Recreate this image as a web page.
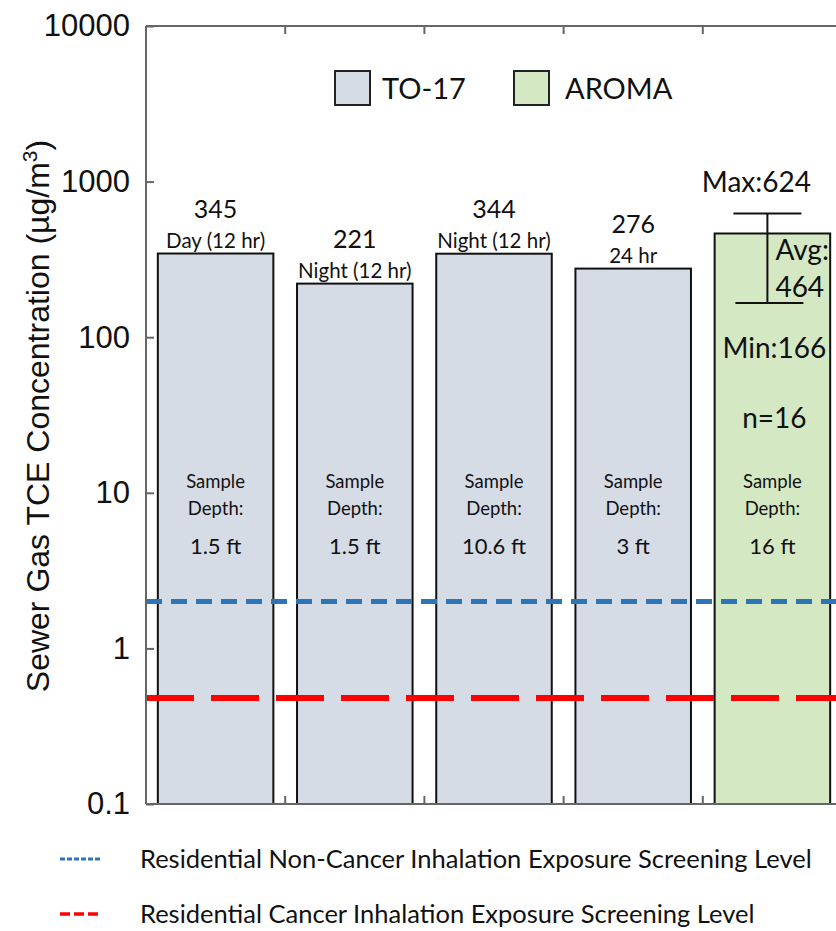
<!DOCTYPE html>
<html>
<head>
<meta charset="utf-8">
<script src="https://cdn.jsdelivr.net/npm/d3@7"></script>
<style>
  html, body { margin: 0; padding: 0; background: #fff; overflow: hidden; }
  svg { display: block; }
  .lbl { font-family: Lato, "Open Sans", sans-serif; fill: #111; }
  .arial { font-family: "Liberation Sans", Arial, sans-serif; fill: #111; }
</style>
</head>
<body>
<div id="chart"></div>
<script>
// Sewer gas TCE concentrations, log scale bar chart

const periods = ["Day (12 hr)", "Night (12 hr)", "Night (12 hr)", "24 hr", ""];
const methods = ["TO-17", "TO-17", "TO-17", "TO-17", "AROMA"];
const concentrations = [345, 221, 344, 276, 464];
const depths = ["1.5 ft", "1.5 ft", "10.6 ft", "3 ft", "16 ft"];
const aromaMin = 166;
const aromaMax = 624;
const aromaN = 16;
const yTicks = [0.1, 1, 10, 100, 1000, 10000];
const screeningNames = [
  "Residential Non-Cancer Inhalation Exposure Screening Level",
  "Residential Cancer Inhalation Exposure Screening Level",
];
const screeningLevels = [2.0, 0.48];

const width = 836;
const height = 931;
const margin = { top: 26, left: 146, bottom: 804, right: 842 };

const colors = { "TO-17": "#d6dce6", AROMA: "#d5e8c4" };
const lineStyles = [
  { color: "#2e75b6", width: 5, dash: "16,9", legendWidth: 3, legendDash: "5,2" },
  { color: "#ff0000", width: 6, dash: "48,17", legendWidth: 3.5, legendDash: "10,4" },
];

const svg = d3
  .select("#chart")
  .append("svg")
  .attr("width", width)
  .attr("height", height);

const x = d3
  .scaleBand()
  .domain(d3.range(concentrations.length))
  .range([margin.left, margin.right])
  .paddingInner(0.17)
  .paddingOuter(0.085);

const y = d3
  .scaleLog()
  .domain([0.1, 10000])
  .range([margin.bottom, margin.top]);

// Bars
svg
  .append("g")
  .selectAll("rect")
  .data(concentrations)
  .enter()
  .append("rect")
  .attr("x", (d, i) => x(i))
  .attr("width", x.bandwidth())
  .attr("y", (d) => y(d))
  .attr("height", (d) => y(0.1) - y(d))
  .attr("fill", (d, i) => colors[methods[i]])
  .attr("stroke", "#111")
  .attr("stroke-width", 2);

// Screening level lines
screeningLevels.forEach((v, i) => {
  svg
    .append("line")
    .attr("x1", margin.left)
    .attr("x2", width)
    .attr("y1", y(v))
    .attr("y2", y(v))
    .attr("stroke", lineStyles[i].color)
    .attr("stroke-width", lineStyles[i].width)
    .attr("stroke-dasharray", lineStyles[i].dash);
});

// Frame and axes
const frame = svg.append("g").attr("stroke", "#666").attr("stroke-width", 2);
frame.append("line").attr("x1", margin.left).attr("x2", margin.left).attr("y1", margin.top).attr("y2", margin.bottom);
frame.append("line").attr("x1", margin.left).attr("x2", width).attr("y1", margin.top).attr("y2", margin.top);
frame.append("line").attr("x1", margin.left).attr("x2", width).attr("y1", margin.bottom).attr("y2", margin.bottom);

const yAxis = d3
  .axisLeft(y)
  .tickValues(yTicks)
  .tickSize(-8)
  .tickPadding(16)
  .tickFormat((d) => String(d));

svg
  .append("g")
  .attr("transform", `translate(${margin.left},0)`)
  .call(yAxis)
  .call((g) => g.select(".domain").remove())
  .call((g) => g.selectAll(".tick line").attr("stroke", "#666").attr("stroke-width", 2))
  .call((g) =>
    g
      .selectAll(".tick text")
      .attr("class", "arial")
      .attr("font-size", 31)
      .attr("fill", "#111")
  );

// Category boundary ticks on top and bottom
const boundaries = d3.range(1, concentrations.length + 1).map(
  (i) => x(i - 1) + x.bandwidth() + (x.step() - x.bandwidth()) / 2
);
boundaries.forEach((bx) => {
  frame.append("line").attr("x1", bx).attr("x2", bx).attr("y1", margin.top).attr("y2", margin.top + 8);
  frame.append("line").attr("x1", bx).attr("x2", bx).attr("y1", margin.bottom).attr("y2", margin.bottom - 8);
});

// Y axis title
svg
  .append("text")
  .attr("class", "arial")
  .attr("transform", `translate(49,416) rotate(-90)`)
  .attr("text-anchor", "middle")
  .attr("font-size", 32)
  .text("Sewer Gas TCE Concentration (µg/m")
  .call((t) => t.append("tspan").attr("font-size", 21).attr("dy", -12).text("3"))
  .call((t) => t.append("tspan").attr("dy", 12).text(")"));

// Labels above TO-17 bars
concentrations.forEach((v, i) => {
  if (methods[i] !== "TO-17") return;
  const cx = x(i) + x.bandwidth() / 2;
  svg
    .append("text")
    .attr("class", "lbl")
    .attr("x", cx)
    .attr("y", y(v) - 36)
    .attr("text-anchor", "middle")
    .attr("font-size", 25)
    .text(v);
  svg
    .append("text")
    .attr("class", "lbl")
    .attr("x", cx)
    .attr("y", y(v) - 6)
    .attr("text-anchor", "middle")
    .attr("font-size", 20.5)
    .text(periods[i]);
});

// Sample depth labels
depths.forEach((d, i) => {
  const cx = x(i) + x.bandwidth() / 2;
  const g = svg.append("g").attr("class", "lbl").attr("text-anchor", "middle");
  g.append("text").attr("x", cx).attr("y", y(10) - 5).attr("font-size", 18.5).text("Sample");
  g.append("text").attr("x", cx).attr("y", y(10) + 22).attr("font-size", 18.5).text("Depth:");
  g.append("text").attr("x", cx).attr("y", y(10) + 61).attr("font-size", 22).text(d);
});

// AROMA range (min / max whisker) and labels
const ai = methods.indexOf("AROMA");
const acx = x(ai) + x.bandwidth() / 2;
const ex = acx - 5;
const whisker = svg.append("g").attr("stroke", "#111").attr("stroke-width", 2);
whisker.append("line").attr("x1", ex).attr("x2", ex).attr("y1", y(aromaMax)).attr("y2", y(aromaMin));
whisker.append("line").attr("x1", ex - 34).attr("x2", ex + 34).attr("y1", y(aromaMax)).attr("y2", y(aromaMax));
whisker.append("line").attr("x1", ex - 32).attr("x2", ex + 36).attr("y1", y(aromaMin)).attr("y2", y(aromaMin));

const aLabels = svg.append("g").attr("class", "lbl").attr("font-size", 28);
aLabels.append("text").attr("x", ex - 11).attr("y", y(aromaMax) - 21).attr("text-anchor", "middle").text("Max:" + aromaMax);
aLabels.append("text").attr("x", ex + 8).attr("y", y(concentrations[ai]) + 27).text("Avg:");
aLabels.append("text").attr("x", ex + 8).attr("y", y(concentrations[ai]) + 64).text(concentrations[ai]);
aLabels.append("text").attr("x", acx + 2).attr("y", y(aromaMin) + 55).attr("text-anchor", "middle").text("Min:" + aromaMin);
aLabels.append("text").attr("x", acx + 2).attr("y", y(aromaMin) + 125).attr("text-anchor", "middle").text("n=" + aromaN);

// Top legend
const legendItems = ["TO-17", "AROMA"];
const legendX = [335, 514];
legendItems.forEach((m, i) => {
  svg
    .append("rect")
    .attr("x", legendX[i])
    .attr("y", 71)
    .attr("width", 35)
    .attr("height", 34)
    .attr("fill", colors[m])
    .attr("stroke", "#222")
    .attr("stroke-width", 2);
  svg
    .append("text")
    .attr("class", "lbl")
    .attr("x", legendX[i] + 47 + i * 4)
    .attr("y", 99)
    .attr("font-size", 29)
    .text(m);
});

// Bottom legend for screening levels
const legendY = [859, 914];
screeningNames.forEach((name, i) => {
  svg
    .append("line")
    .attr("x1", 60)
    .attr("x2", 101)
    .attr("y1", legendY[i])
    .attr("y2", legendY[i])
    .attr("stroke", lineStyles[i].color)
    .attr("stroke-width", lineStyles[i].legendWidth)
    .attr("stroke-dasharray", lineStyles[i].legendDash);
  svg
    .append("text")
    .attr("class", "lbl")
    .attr("x", 140)
    .attr("y", legendY[i] + 9)
    .attr("font-size", 25.5)
    .text(name);
});
</script>
</body>
</html>
